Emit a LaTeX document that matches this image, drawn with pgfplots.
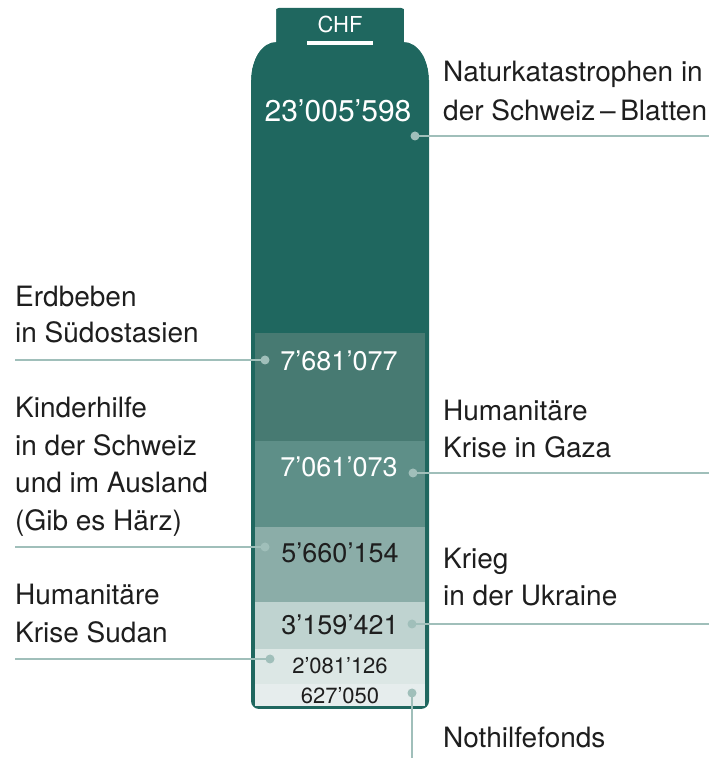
\documentclass[border=0pt]{standalone}
\usepackage{pgfplots}
\pgfplotsset{compat=1.18}
\usepackage{fontspec}
\setmainfont{TeX Gyre Heros}
\definecolor{bottle}{HTML}{1F675F}
\definecolor{cErd}{HTML}{477A72}
\definecolor{cGaza}{HTML}{5E8F88}
\definecolor{cKind}{HTML}{8BADA8}
\definecolor{cUkr}{HTML}{BFD3D0}
\definecolor{cSud}{HTML}{DCE7E5}
\definecolor{cNot}{HTML}{E6EDED}
\definecolor{lead}{HTML}{A0BFBA}
\definecolor{txt}{HTML}{1E1E1E}
\newcommand{\lab}{\fontsize{28bp}{34bp}\selectfont}
\newcommand{\num}{\fontsize{27bp}{32bp}\selectfont}
\newcommand{\bnum}{\fontsize{30bp}{34bp}\selectfont}
\newcommand{\snum}{\fontsize{22bp}{26bp}\selectfont}
\pgfplotsset{frame/.style={
  scale only axis, width=728bp, height=758bp,
  xmin=0, xmax=728, ymin=-52, ymax=706,
  hide axis, clip=false}}
\begin{document}
\begin{tikzpicture}
% layer 1: bottle body
\begin{axis}[frame]
\fill[bottle] (251,626) -- (251,5) .. controls (251,0.6) and (254.6,-3) .. (259,-3)
  -- (421,-3) .. controls (425.4,-3) and (429,0.6) .. (429,5)
  -- (429,626) .. controls (429,647) and (417.8,664) .. (404,664)
  -- (404,695) .. controls (404,697) and (403,698) .. (401,698)
  -- (279,698) .. controls (277,698) and (276,697) .. (276,695)
  -- (276,664) .. controls (262.2,664) and (251,647) .. (251,626) -- cycle;
\coordinate (SW) at (0,-52);
\coordinate (NE) at (728,706);
\end{axis}
% layer 2: stacked segments (drawn heights, bottom to top)
\begin{axis}[frame, ybar stacked, bar width=170]
\addplot[fill=cNot, draw=none] coordinates {(340,22)};   % Nothilfefonds 627'050
\addplot[fill=cSud, draw=none] coordinates {(340,35)};   % Sudan 2'081'126
\addplot[fill=cUkr, draw=none] coordinates {(340,47)};   % Ukraine 3'159'421
\addplot[fill=cKind, draw=none] coordinates {(340,75)};  % Kinderhilfe 5'660'154
\addplot[fill=cGaza, draw=none] coordinates {(340,86)};  % Gaza 7'061'073
\addplot[fill=cErd, draw=none] coordinates {(340,108)};  % Erdbeben 7'681'077
\addplot[fill=bottle, draw=none] coordinates {(340,324)};% Naturkatastrophen 23'005'598
\end{axis}
% layer 3: masks and annotations
\begin{axis}[frame]
\fill[white] (245,626) -- (251,626) .. controls (251,647) and (262.2,664) .. (276,664) -- (276,702) -- (245,702) -- cycle;
\fill[white] (435,626) -- (429,626) .. controls (429,647) and (417.8,664) .. (404,664) -- (404,702) -- (435,702) -- cycle;
% CHF
\node[anchor=base, inner sep=0, text=white, font=\fontsize{22bp}{26bp}\selectfont] at (340,673) {CHF};
\fill[white] (307,661) rectangle (373,665);
% values
\node[anchor=base, inner sep=0, text=white, font=\bnum] at (338,584) {23’005’598};
\node[anchor=base, inner sep=0, text=white, font=\num] at (339,335) {7’681’077};
\node[anchor=base, inner sep=0, text=white, font=\num] at (339,229) {7’061’073};
\node[anchor=base, inner sep=0, text=txt, font=\num] at (340,143) {5’660’154};
\node[anchor=base, inner sep=0, text=txt, font=\num] at (340,71) {3’159’421};
\node[anchor=base, inner sep=0, text=txt, font=\snum] at (340,32) {2’081’126};
\node[anchor=base, inner sep=0, text=txt, font=\snum] at (340,2) {627’050};
% leader lines
\draw[lead, line width=2bp] (415,570) -- (709,570);
\fill[lead] (415,570) circle[radius=4.5bp];
\draw[lead, line width=2bp] (413,233) -- (709,233);
\fill[lead] (413,233) circle[radius=4.5bp];
\draw[lead, line width=2bp] (412,82) -- (709,82);
\fill[lead] (412,82) circle[radius=4.5bp];
\draw[lead, line width=2bp] (412,13) -- (412,-52);
\fill[lead] (412,13) circle[radius=4.5bp];
\draw[lead, line width=2bp] (15,346) -- (265,346);
\fill[lead] (265,346) circle[radius=4.5bp];
\draw[lead, line width=2bp] (15,159) -- (265,159);
\fill[lead] (265,159) circle[radius=4.5bp];
\draw[lead, line width=2bp] (15,47) -- (270,47);
\fill[lead] (270,47) circle[radius=4.5bp];
% labels right
\node[anchor=base west, inner sep=0, text=txt, font=\lab] at (443,624) {Naturkatastrophen in};
\node[anchor=base west, inner sep=0, text=txt, font=\lab] at (443,585) {der Schweiz\,–\,Blatten};
\node[anchor=base west, inner sep=0, text=txt, font=\lab] at (443,285) {Humanitäre};
\node[anchor=base west, inner sep=0, text=txt, font=\lab] at (443,248) {Krise in Gaza};
\node[anchor=base west, inner sep=0, text=txt, font=\lab] at (443,137) {Krieg};
\node[anchor=base west, inner sep=0, text=txt, font=\lab] at (443,100) {in der Ukraine};
\node[anchor=base west, inner sep=0, text=txt, font=\lab] at (443,-41) {Nothilfefonds};
% labels left
\node[anchor=base west, inner sep=0, text=txt, font=\lab] at (15,399) {Erdbeben};
\node[anchor=base west, inner sep=0, text=txt, font=\lab] at (15,363) {in Südostasien};
\node[anchor=base west, inner sep=0, text=txt, font=\lab] at (15,288) {Kinderhilfe};
\node[anchor=base west, inner sep=0, text=txt, font=\lab] at (15,250) {in der Schweiz};
\node[anchor=base west, inner sep=0, text=txt, font=\lab] at (15,213) {und im Ausland};
\node[anchor=base west, inner sep=0, text=txt, font=\lab] at (15,175) {(Gib es Härz)};
\node[anchor=base west, inner sep=0, text=txt, font=\lab] at (15,101) {Humanitäre};
\node[anchor=base west, inner sep=0, text=txt, font=\lab] at (15,63) {Krise Sudan};
\end{axis}
\pgfresetboundingbox
\path[use as bounding box] (SW) rectangle (NE);
\end{tikzpicture}
\end{document}
